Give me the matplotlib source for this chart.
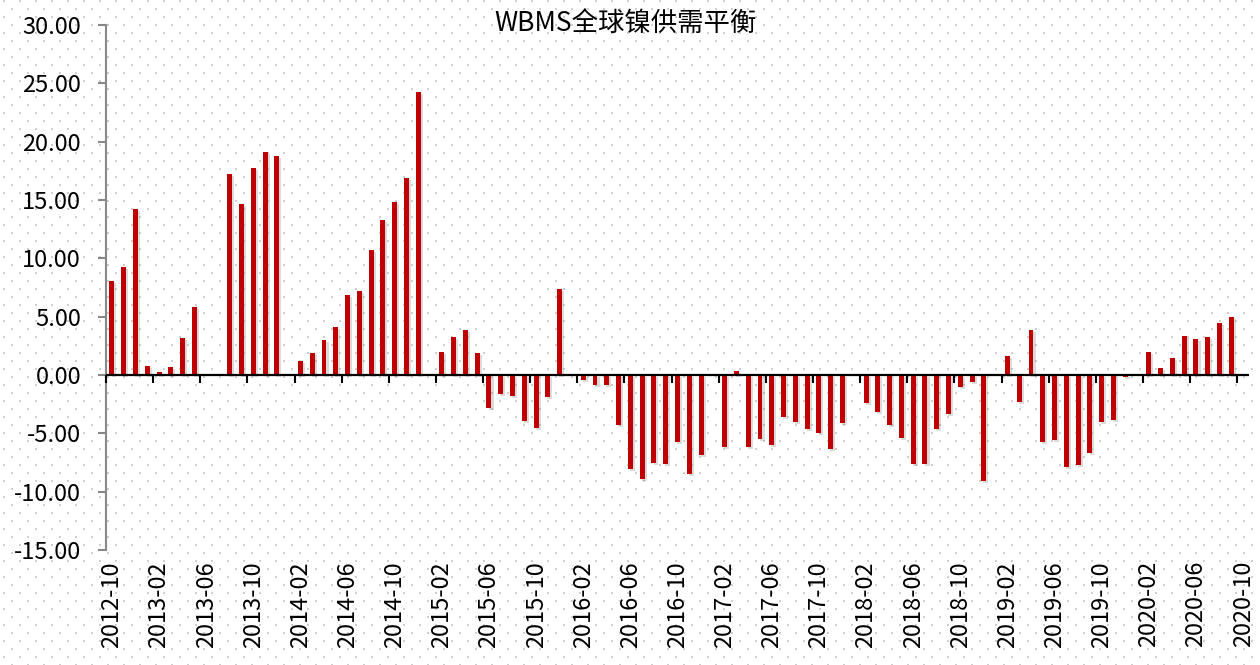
import numpy as np
import pandas as pd
import matplotlib
matplotlib.use('Agg')
import matplotlib.pyplot as plt
import matplotlib.patheffects as pe

plt.rcParams['font.family'] = ['Noto Sans CJK SC', 'DejaVu Sans']
plt.rcParams['axes.unicode_minus'] = False

title = 'WBMS全球镍供需平衡'
start_month = '2012-10'
end_month = '2020-10'

# monthly balance, None = no value published
balance = [
    8.05, 9.25, 14.2, 0.77, 0.26, 0.71, 3.17, 5.8, None, None,
    17.25, 14.65, 17.77, 19.08, 18.74, None, 1.2, 1.89, 3.0, 4.14,
    6.86, 7.2, 10.68, 13.28, 14.8, 16.85, 24.25, None, 1.97, 3.26,
    3.86, 1.89, -2.8, -1.6, -1.77, -3.91, -4.51, -1.91, 7.37, None,
    -0.43, -0.82, -0.89, -4.27, -8.06, -8.94, -7.51, -7.66, -5.71, -8.46,
    -6.89, None, -6.2, 0.31, -6.2, -5.45, -6.03, -3.6, -4.0, -4.66,
    -4.98, -6.37, -4.11, None, -2.37, -3.2, -4.31, -5.4, -7.63, -7.66,
    -4.63, -3.31, -1.0, -0.63, -9.1, None, 1.6, -2.3, 3.83, -5.74,
    -5.54, -7.86, -7.71, -6.69, -4.06, -3.86, -0.2, None, 2.0, 0.63,
    1.43, 3.31, 3.09, 3.29, 4.46, 5.0, None,
]

months = pd.period_range(start_month, end_month, freq='M').strftime('%Y-%m').tolist()
vals = np.array([np.nan if v is None else v for v in balance], dtype=float)
x = np.arange(len(months))

fig = plt.figure(figsize=(12.6, 6.65), dpi=100)

# dotted pattern background over the whole figure
bg = fig.add_axes([0, 0, 1, 1], zorder=-5)
bg.set_xlim(0, 1260)
bg.set_ylim(665, 0)
bg.axis('off')
dx, dy = [], []
for r in range(84):
    yy = 0.7 + 8 * r
    x0 = 12 if r % 2 else 4
    for xx in np.arange(x0, 1260, 16):
        dx.append(xx)
        dy.append(yy)
bg.scatter(dx, dy, s=2.2, marker='s', color='#cfcfcf', linewidths=0)

ax = fig.add_axes([106 / 1260, 1 - 550 / 665, 1143 / 1260, 525 / 665])
ax.patch.set_visible(False)

mask = ~np.isnan(vals)
bars = ax.bar(x[mask], vals[mask], width=0.42, color='#C00000', zorder=3)
for b in bars:
    b.set_path_effects([pe.SimplePatchShadow(offset=(1.5, -1.5), shadow_rgbFace='#888888', alpha=0.3),
                        pe.Normal()])

ax.set_xlim(-0.5, len(months) - 0.5)
ax.set_ylim(-15, 30)
ax.set_yticks(np.arange(-15, 31, 5))
ax.yaxis.set_major_formatter(matplotlib.ticker.FormatStrFormatter('%.2f'))
ax.tick_params(axis='y', direction='out', length=6, width=1.5, color='#888888',
               pad=12, labelsize=17)

# x labels at every 4th month, tick marks drawn on the zero line
ax.set_xticks(x[::4], [months[i] for i in x[::4]], rotation=90)
ax.tick_params(axis='x', length=0, pad=8, labelsize=17)
ax.axhline(0, color='black', lw=1.6, zorder=4)
ax.plot(x[::4] - 0.5, np.zeros(len(x[::4])), linestyle='none', marker=3,
        markersize=6, mew=1.5, color='black', clip_on=False, zorder=4)

for s in ['top', 'right', 'bottom']:
    ax.spines[s].set_visible(False)
ax.spines['left'].set_color('#888888')
ax.spines['left'].set_linewidth(1.5)

fig.text(0.496, 0.965, title, ha='center', va='center', fontsize=19)

fig.savefig('out.png', dpi=100)
